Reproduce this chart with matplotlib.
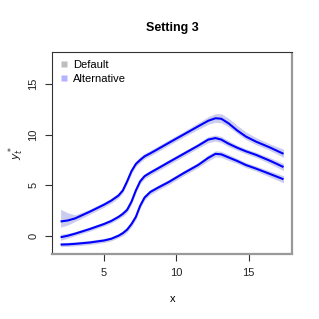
import numpy as np
import matplotlib.pyplot as plt
from matplotlib.lines import Line2D

plt.rcParams['font.family'] = ['Liberation Sans', 'DejaVu Sans']

# curve abscissae
x = np.array([2.0, 2.5, 3.0, 4.0, 5.0, 5.5, 6.0, 6.3, 6.6, 6.9, 7.2, 7.5, 7.8,
              8.2, 8.7, 9.5, 10.5, 11.5, 12.2, 12.7, 13.1, 13.6, 14.2, 14.8,
              15.5, 16.5, 17.4])

# three fitted curves (top, middle, bottom)
y_top = np.array([1.45, 1.55, 1.75, 2.4, 3.1, 3.5, 4.0, 4.5, 5.4, 6.4, 7.1, 7.5, 7.85,
                  8.15, 8.55, 9.2, 10.0, 10.8, 11.35, 11.6, 11.55, 11.1, 10.4, 9.8,
                  9.3, 8.7, 8.1])
y_mid = np.array([-0.1, 0.05, 0.25, 0.7, 1.2, 1.5, 1.9, 2.2, 2.6, 3.4, 4.5, 5.4, 5.9,
                  6.25, 6.65, 7.3, 8.1, 8.9, 9.5, 9.65, 9.5, 9.1, 8.7, 8.35,
                  8.0, 7.4, 6.8])
y_low = np.array([-0.82, -0.8, -0.75, -0.62, -0.42, -0.25, 0.05, 0.3, 0.65, 1.2, 1.9, 3.0, 3.8,
                  4.35, 4.75, 5.35, 6.2, 7.0, 7.7, 8.1, 8.05, 7.75, 7.4, 7.0,
                  6.65, 6.1, 5.6])

# band widths (below / above each curve)
top_lo = np.array([0.55, 0.45, 0.3, 0.25, 0.25, 0.25, 0.25, 0.25, 0.25, 0.25, 0.25, 0.25, 0.25,
                   0.25, 0.25, 0.25, 0.25, 0.3, 0.35, 0.4, 0.4, 0.35, 0.3, 0.3,
                   0.3, 0.3, 0.35])
top_hi = np.array([1.2, 0.75, 0.35, 0.25, 0.25, 0.25, 0.25, 0.25, 0.25, 0.25, 0.3, 0.3, 0.3,
                   0.3, 0.3, 0.3, 0.3, 0.35, 0.4, 0.45, 0.5, 0.5, 0.5, 0.45,
                   0.4, 0.35, 0.45])
mid_w = np.array([0.3, 0.25, 0.2, 0.2, 0.2, 0.2, 0.2, 0.25, 0.25, 0.25, 0.25, 0.25, 0.25,
                  0.25, 0.25, 0.25, 0.25, 0.25, 0.3, 0.3, 0.3, 0.3, 0.25, 0.25,
                  0.25, 0.3, 0.35])
low_w = np.array([0.2, 0.2, 0.2, 0.2, 0.2, 0.2, 0.2, 0.25, 0.25, 0.25, 0.25, 0.25, 0.25,
                  0.25, 0.25, 0.25, 0.25, 0.25, 0.3, 0.3, 0.3, 0.3, 0.25, 0.25,
                  0.25, 0.3, 0.35])

xticks = [5, 10, 15]
yticks = [0, 5, 10, 15]
legend_labels = ['Default', 'Alternative']

band_col = '#cccdee'
line_col = '#0000ff'

fig = plt.figure(figsize=(3.19, 3.19), dpi=100)
ax = fig.add_axes([0.164, 0.204, 0.752, 0.632])

ax.fill_between(x, y_top - top_lo, y_top + top_hi, color=band_col, lw=0)
ax.fill_between(x, y_mid - mid_w, y_mid + mid_w, color=band_col, lw=0)
ax.fill_between(x, y_low - low_w, y_low + low_w, color=band_col, lw=0)
for yy in (y_top, y_mid, y_low):
    ax.plot(x, yy, color=line_col, lw=1.5, solid_capstyle='butt')

ax.set_xlim(1.43, 18.0)
ax.set_ylim(-1.74, 18.08)
ax.set_xticks(xticks)
ax.set_yticks(yticks)
ax.tick_params(labelsize=8, length=5, width=0.8, color='#333333', labelcolor='#222222', pad=5)
for lab in ax.get_yticklabels():
    lab.set_rotation(90)
    lab.set_va('center')

for s in ('left', 'top'):
    ax.spines[s].set_color('#333333')
    ax.spines[s].set_linewidth(0.8)
for s in ('right', 'bottom'):
    ax.spines[s].set_color('#999999')
    ax.spines[s].set_linewidth(1.6)
ax.spines['right'].set_capstyle('butt')

ax.set_title('Setting 3', fontsize=9, fontweight='bold', pad=15)
ax.set_xlabel('x', fontsize=8, labelpad=12)
ax.set_ylabel(r'$y_t^*$', fontsize=8, labelpad=2, color='#222222')

handles = [Line2D([], [], ls='none', marker='s', ms=4, mfc='#bebebe', mec='none'),
           Line2D([], [], ls='none', marker='s', ms=4, mfc='#b3b3ff', mec='none')]
ax.legend(handles, legend_labels, loc='upper left', frameon=False, fontsize=8,
          handlelength=0.7, handletextpad=0.5, borderaxespad=0.3, labelspacing=0.35)

fig.savefig('out.png', dpi=100)
